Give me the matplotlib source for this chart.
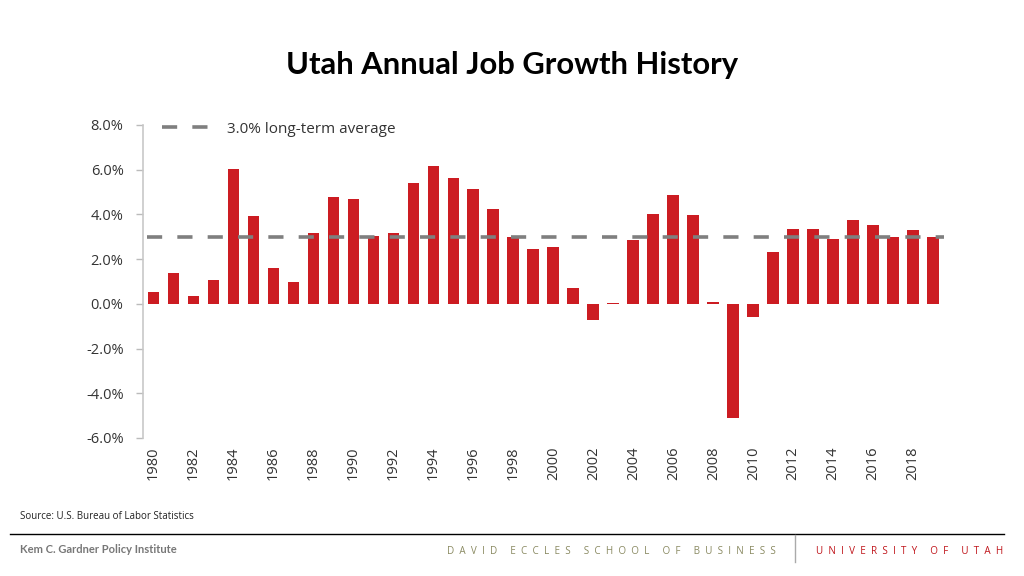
import numpy as np
import matplotlib.pyplot as plt
from matplotlib.lines import Line2D

# data
years = list(range(1980, 2020))
growth = [0.51, 1.38, 0.36, 1.06, 6.02, 3.94, 1.60, 0.99, 3.16, 4.78,
          4.70, 3.02, 3.16, 5.40, 6.17, 5.62, 5.15, 4.24, 2.99, 2.46,
          2.53, 0.69, -0.73, 0.04, 2.84, 4.00, 4.85, 3.98, 0.10, -5.12,
          -0.57, 2.30, 3.37, 3.37, 2.91, 3.76, 3.54, 2.97, 3.30, 2.99]
avg = 3.0
tick_years = years[::2]
yticks = [8, 6, 4, 2, 0, -2, -4, -6]

plt.rcParams['font.family'] = ['Open Sans', 'DejaVu Sans']

fig = plt.figure(figsize=(10.24, 5.76), dpi=100)
ax = fig.add_axes([0.1396, 0.2396, 0.7864, 0.5434])

ax.bar(years, growth, width=0.58, color='#cc1c22', zorder=2)
ax.axhline(avg, color='#7f7f7f', lw=2.6, dashes=(4.2, 4.2), zorder=3,
           xmin=0.005, xmax=0.995)

ax.set_xlim(1979.48, 2019.75)
ax.set_ylim(-6, 8)
ax.set_yticks(yticks)
ax.set_yticklabels([f'{v:.1f}%' for v in yticks], fontsize=10.5, color='#333333')
ax.set_xticks(tick_years)
ax.set_xticklabels([str(y) for y in tick_years], rotation=90, fontsize=10.5,
                   color='#333333')
ax.tick_params(axis='x', length=0, pad=6)
ax.tick_params(axis='y', length=5, color='#bbbbbb', width=1, pad=9)

for s in ['top', 'right', 'bottom']:
    ax.spines[s].set_visible(False)
ax.spines['left'].set_color('#c8c8c8')
ax.spines['left'].set_linewidth(1.2)

handle = Line2D([], [], color='#7f7f7f', lw=2.6, dashes=(4.2, 4.2))
leg = ax.legend([handle], ['3.0% long-term average'], loc='upper left',
                frameon=False, fontsize=11, handlelength=3.3,
                bbox_to_anchor=(0.006, 1.055), handletextpad=1.0)
for t in leg.get_texts():
    t.set_color('#333333')

fig.text(0.5, 0.888, 'Utah Annual Job Growth History', ha='center', va='center',
         fontsize=22.3, fontweight='bold', family=['Lato', 'DejaVu Sans'])

# footer
fig.text(0.02, 0.104, 'Source: U.S. Bureau of Labor Statistics', fontsize=7,
         va='center', color='#222222')
fig.add_artist(Line2D([0.01, 0.98], [0.073, 0.073], color='black', lw=1))
fig.text(0.02, 0.046, 'Kem C. Gardner Policy Institute', fontsize=8,
         fontweight='bold', color='#777777', va='center',
         family=['Lato', 'DejaVu Sans'])
fig.text(0.4365, 0.043, '  '.join('DAVID ECCLES SCHOOL OF BUSINESS'), fontsize=7.1,
         color='#8a8a62', va='center')
fig.add_artist(Line2D([0.776, 0.776], [0.025, 0.072], color='#aaaaaa', lw=1))
fig.text(0.7965, 0.043, '  '.join('UNIVERSITY OF UTAH'), fontsize=7.1,
         color='#c0161c', va='center')

fig.savefig('out.png', dpi=100)
